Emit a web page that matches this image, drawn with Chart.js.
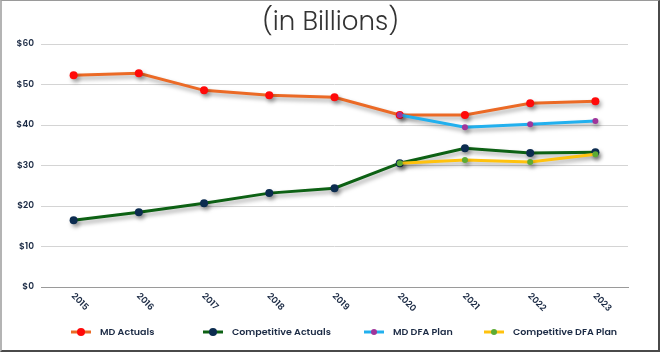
<!DOCTYPE html>
<html>
<head>
<meta charset="utf-8">
<script src="https://cdn.jsdelivr.net/npm/chart.js@4"></script>
<style>
  html, body { margin: 0; padding: 0; background: #ffffff; }
  #wrap { position: relative; width: 661px; height: 353px; overflow: hidden; }
  #chart { position: absolute; left: 0; top: 0; }
  #frame {
    position: absolute; left: 0; top: 0; width: 660px; height: 352px;
    box-sizing: border-box; pointer-events: none;
    border-left: 2px solid #b4b4b4; border-top: 1px solid #9a9a9a;
    border-right: 2px solid #4a4a4a; border-bottom: 2px solid #4a4a4a;
  }
</style>
</head>
<body>
<div id="wrap">
  <canvas id="chart" width="661" height="353"></canvas>
  <div id="frame"></div>
</div>
<script>
// Chart data
const years = ['2015', '2016', '2017', '2018', '2019', '2020', '2021', '2022', '2023'];
const mdActuals = [52.3, 52.8, 48.6, 47.4, 46.9, 42.5, 42.5, 45.4, 45.9];
const competitiveActuals = [16.5, 18.5, 20.7, 23.2, 24.4, 30.6, 34.3, 33.1, 33.3];
const mdDfaPlan = [null, null, null, null, null, 42.5, 39.5, 40.2, 41.0];
const competitiveDfaPlan = [null, null, null, null, null, 30.6, 31.4, 30.9, 32.8];
const yTicks = [0, 10, 20, 30, 40, 50, 60];

const FONT = 'Poppins, Lato, "Open Sans", sans-serif';
const TEXT_COLOR = '#1c2b45';

// soft drop shadow under every line
const shadowPlugin = {
    id: 'lineShadow',
    beforeDatasetDraw(chart) {
        const ctx = chart.ctx;
        ctx.save();
        ctx.shadowColor = 'rgba(0, 0, 0, 0.35)';
        ctx.shadowBlur = 4;
        ctx.shadowOffsetX = 2;
        ctx.shadowOffsetY = 3;
    },
    afterDatasetDraw(chart) {
        chart.ctx.restore();
    }
};

// x labels slanted downwards to the right
const slantLabels = {
    id: 'slantLabels',
    afterDraw(chart) {
        const ctx = chart.ctx;
        const xs = chart.scales.x;
        ctx.save();
        ctx.font = '600 9px ' + FONT;
        ctx.fillStyle = TEXT_COLOR;
        ctx.textAlign = 'left';
        ctx.textBaseline = 'middle';
        years.forEach((label, i) => {
            const x = xs.getPixelForTick(i);
            ctx.save();
            ctx.translate(x - 1, xs.top + 8);
            ctx.rotate(Math.PI / 4);
            ctx.fillText(label, 0, 0);
            ctx.restore();
        });
        ctx.restore();
    }
};

// legend row with line + dot markers
const legendRow = {
    id: 'legendRow',
    afterDraw(chart) {
        const ctx = chart.ctx;
        const starts = [71, 203, 364, 484];
        const y = 332;
        ctx.save();
        chart.data.datasets.forEach((ds, i) => {
            const x0 = starts[i];
            ctx.strokeStyle = ds.borderColor;
            ctx.lineWidth = 3;
            ctx.beginPath();
            ctx.moveTo(x0, y);
            ctx.lineTo(x0 + 20, y);
            ctx.stroke();
            ctx.fillStyle = ds.pointBackgroundColor;
            ctx.beginPath();
            ctx.arc(x0 + 10, y, ds.pointRadius, 0, Math.PI * 2);
            ctx.fill();
            ctx.font = '600 9.5px ' + FONT;
            ctx.fillStyle = TEXT_COLOR;
            ctx.textAlign = 'left';
            ctx.textBaseline = 'middle';
            ctx.fillText(ds.label, x0 + 29, y + 1);
        });
        ctx.restore();
    }
};

const ctx = document.getElementById('chart').getContext('2d');
new Chart(ctx, {
    type: 'line',
    data: {
        labels: years,
        datasets: [
            {
                label: 'MD Actuals',
                data: mdActuals,
                borderColor: '#eb6a26',
                pointBackgroundColor: '#ff0a0a',
                pointRadius: 4,
                order: 1
            },
            {
                label: 'Competitive Actuals',
                data: competitiveActuals,
                borderColor: '#0d6114',
                pointBackgroundColor: '#0c2c50',
                pointRadius: 4,
                order: 1
            },
            {
                label: 'MD DFA Plan',
                data: mdDfaPlan,
                borderColor: '#22b0ee',
                pointBackgroundColor: '#a0359a',
                pointRadius: 3,
                order: 0
            },
            {
                label: 'Competitive DFA Plan',
                data: competitiveDfaPlan,
                borderColor: '#ffc20e',
                pointBackgroundColor: '#5cab34',
                pointRadius: 3,
                order: 0
            }
        ]
    },
    options: {
        responsive: false,
        animation: false,
        elements: {
            line: { borderWidth: 3, tension: 0 },
            point: { borderWidth: 0, hoverRadius: 4 }
        },
        layout: { padding: 0 },
        plugins: {
            legend: { display: false },
            tooltip: { enabled: false },
            title: {
                display: true,
                text: '(in Billions)',
                color: '#333333',
                font: { family: FONT, size: 26, weight: '300' },
                padding: { top: 8, bottom: 5 }
            }
        },
        scales: {
            x: {
                offset: true,
                grid: { display: false },
                border: { display: true, color: '#9a9a9a', width: 1 },
                ticks: { display: false },
                afterFit(scale) { scale.height = 66; }
            },
            y: {
                min: 0,
                max: 60,
                afterBuildTicks(scale) {
                    scale.ticks = yTicks.map(v => ({ value: v }));
                },
                grid: { color: '#d4d4d4', drawTicks: false },
                border: { display: false },
                ticks: {
                    padding: 7,
                    color: TEXT_COLOR,
                    font: { family: FONT, size: 9, weight: '600' },
                    callback: v => '$' + v
                },
                afterFit(scale) { scale.width = 41; }
            },
            // empty right axis keeps the plot clear of the right edge
            yRight: {
                position: 'right',
                display: true,
                grid: { display: false },
                border: { display: false },
                ticks: { display: false },
                afterFit(scale) { scale.width = 33; }
            }
        }
    },
    plugins: [shadowPlugin, slantLabels, legendRow]
});
</script>
</body>
</html>
